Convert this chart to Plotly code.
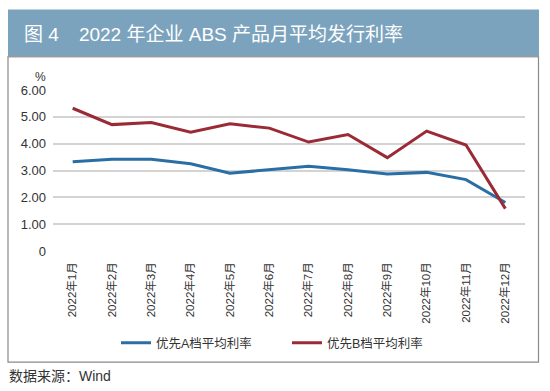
import plotly.graph_objects as go

months = ["2022年1月", "2022年2月", "2022年3月", "2022年4月", "2022年5月", "2022年6月",
          "2022年7月", "2022年8月", "2022年9月", "2022年10月", "2022年11月", "2022年12月"]
rate_a = [3.33, 3.42, 3.42, 3.25, 2.90, 3.02, 3.16, 3.03, 2.87, 2.93, 2.66, 1.81]
rate_b = [5.32, 4.71, 4.79, 4.43, 4.74, 4.58, 4.06, 4.34, 3.48, 4.47, 3.95, 1.58]
name_a = "优先A档平均利率"
name_b = "优先B档平均利率"
y_ticks = [0, 1, 2, 3, 4, 5, 6]
y_ticktext = ["0", "1.00", "2.00", "3.00", "4.00", "5.00", "6.00"]
title_text = "图 4\u2002  2022 年企业 ABS 产品月平均发行利率"
source_text = "数据来源：Wind"

W, H = 550, 391
L, R, T, B = 53, 25, 89.5, 140.3
PW, PH = W - L - R, H - T - B

def px(x):
    return (x - L) / PW

def py(y):
    return 1 - (y - T) / PH

FONT = "Liberation Sans, Arial, Noto Sans CJK SC, sans-serif"

fig = go.Figure()
fig.add_trace(go.Scatter(x=months, y=rate_a, name=name_a, mode="lines",
                         line=dict(color="#2a6ea6", width=3)))
fig.add_trace(go.Scatter(x=months, y=rate_b, name=name_b, mode="lines",
                         line=dict(color="#9a2b36", width=3)))

fig.update_layout(
    width=W, height=H,
    margin=dict(l=L, r=R, t=T, b=B, autoexpand=False),
    paper_bgcolor="white", plot_bgcolor="white",
    font=dict(family=FONT, size=12, color="#333333"),
    showlegend=True,
    legend=dict(orientation="h", x=px(116), y=py(343), xanchor="left", yanchor="middle",
                font=dict(size=12.5, color="#333333"), entrywidth=126,
                bgcolor="rgba(0,0,0,0)"),
    xaxis=dict(type="category", range=[-0.5, 11.5], showgrid=False, zeroline=False,
               showline=False, ticks="", tickangle=-90, tickfont=dict(size=11.5, color="#333333"),
               ticklabelstandoff=8, automargin=False),
    yaxis=dict(range=[0, 6], tickvals=y_ticks, ticktext=y_ticktext, showgrid=True,
               gridcolor="#d3d3d3", gridwidth=2, zeroline=False, showline=False,
               ticks="", tickfont=dict(size=13, color="#333333"), ticklabelstandoff=6,
               automargin=False),
    shapes=[
        dict(type="rect", xref="paper", yref="paper", x0=px(8), x1=px(538.5), y0=py(56), y1=py(362),
             line=dict(color="#8a8a8a", width=1.2), fillcolor="rgba(0,0,0,0)", layer="below"),
        dict(type="rect", xref="paper", yref="paper", x0=px(8), x1=px(539), y0=py(9), y1=py(55.5),
             line=dict(width=0), fillcolor="#7ca3be", layer="below"),
        dict(type="line", xref="paper", yref="paper", x0=px(8), x1=px(539), y0=py(56), y1=py(56),
             line=dict(color="#9a9a9a", width=1.5)),
    ],
    annotations=[
        dict(text=title_text, xref="paper", yref="paper", x=px(22), y=py(34), xanchor="left",
             yanchor="middle", showarrow=False, font=dict(size=19, color="white")),
        dict(text="%", xref="paper", yref="paper", x=px(40), y=py(76), xanchor="center",
             yanchor="middle", showarrow=False, font=dict(size=12, color="#333333")),
        dict(text=source_text, xref="paper", yref="paper", x=px(7), y=py(376), xanchor="left",
             yanchor="middle", showarrow=False, font=dict(size=14, color="#333333")),
    ],
)

fig.write_html("out.html", config={"displayModeBar": False},
               post_script="document.body.style.margin='0';")
